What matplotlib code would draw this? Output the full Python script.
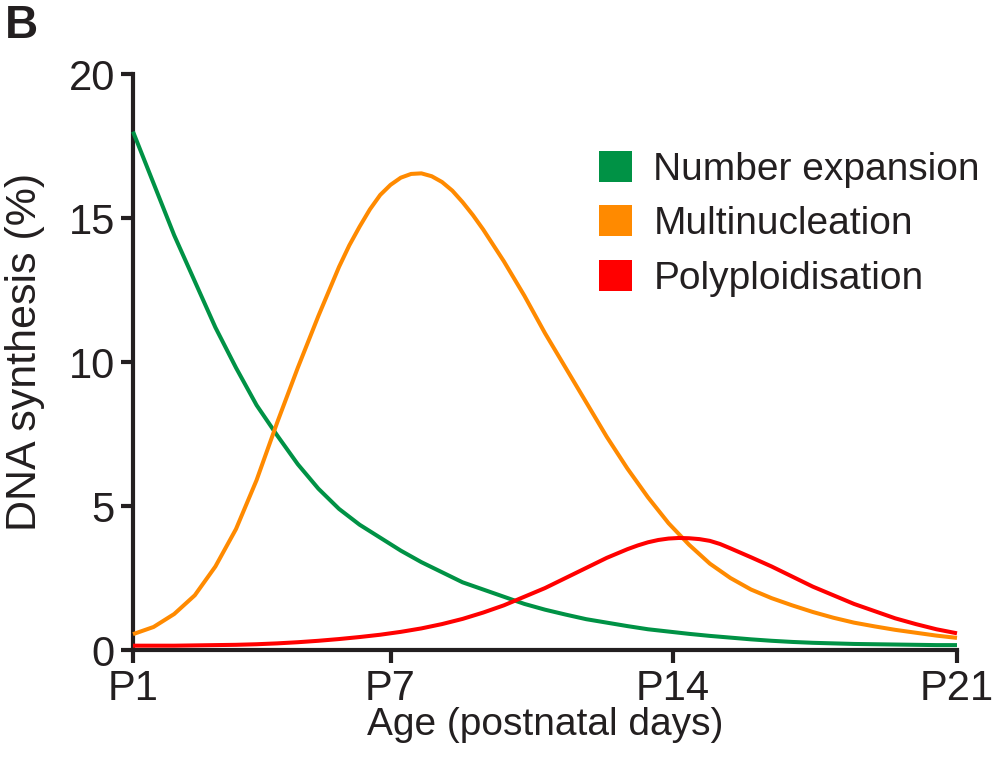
import matplotlib
matplotlib.use("Agg")
import matplotlib.pyplot as plt
from matplotlib.patches import Patch

plt.rcParams['font.family'] = ['Liberation Sans', 'DejaVu Sans']

# ---- data ----
days_ne = [1, 1.25, 1.5, 1.75, 2, 2.5, 3, 3.5, 4, 4.5, 5, 5.5, 6, 6.5, 7, 7.5, 8, 8.5, 9,
           9.5, 10, 10.5, 11, 11.5, 12, 12.5, 13, 13.5, 14, 14.5, 15, 15.5, 16, 16.5, 17,
           17.5, 18, 18.5, 19, 19.5, 20, 20.5, 21]
number_expansion = [18.0, 17.1, 16.2, 15.3, 14.4, 12.8, 11.2, 9.8, 8.5, 7.45, 6.45, 5.6,
                    4.9, 4.35, 3.9, 3.45, 3.05, 2.7, 2.35, 2.1, 1.85, 1.6, 1.4, 1.23, 1.07,
                    0.95, 0.83, 0.72, 0.64, 0.56, 0.49, 0.43, 0.37, 0.32, 0.28, 0.25, 0.23,
                    0.21, 0.2, 0.19, 0.18, 0.17, 0.17]

days_mn = [1, 1.5, 2, 2.5, 3, 3.5, 4, 4.5, 5, 5.5, 6, 6.25, 6.5, 6.75, 7, 7.25, 7.5, 7.75,
           8, 8.25, 8.5, 8.75, 9, 9.25, 9.5, 10, 10.5, 11, 11.5, 12, 12.5, 13, 13.5, 14,
           14.5, 15, 15.5, 16, 16.5, 17, 17.5, 18, 18.5, 19, 19.5, 20, 20.5, 21]
multinucleation = [0.55, 0.8, 1.25, 1.9, 2.9, 4.2, 5.9, 7.9, 9.8, 11.6, 13.3, 14.05, 14.7,
                   15.3, 15.8, 16.15, 16.4, 16.53, 16.55, 16.45, 16.25, 15.95, 15.55, 15.1,
                   14.6, 13.5, 12.3, 11.0, 9.8, 8.6, 7.4, 6.3, 5.3, 4.4, 3.65, 3.0, 2.5,
                   2.1, 1.8, 1.55, 1.32, 1.12, 0.95, 0.82, 0.7, 0.6, 0.5, 0.42]

days_pp = [1, 1.5, 2, 2.5, 3, 3.5, 4, 4.5, 5, 5.5, 6, 6.5, 7, 7.5, 8, 8.5, 9, 9.5, 10,
           10.5, 11, 11.5, 12, 12.5, 13, 13.25, 13.5, 13.75, 14, 14.25, 14.5, 14.75, 15,
           15.25, 15.5, 16, 16.5, 17, 17.5, 18, 18.5, 19, 19.5, 20, 20.5, 21]
polyploidisation = [0.15, 0.15, 0.15, 0.16, 0.17, 0.18, 0.2, 0.23, 0.27, 0.32, 0.38, 0.45,
                    0.53, 0.63, 0.75, 0.9, 1.08, 1.3, 1.55, 1.85, 2.15, 2.5, 2.85, 3.2,
                    3.5, 3.63, 3.74, 3.82, 3.87, 3.89, 3.88, 3.85, 3.79, 3.68, 3.53, 3.22,
                    2.9, 2.55, 2.2, 1.9, 1.6, 1.35, 1.1, 0.9, 0.72, 0.58]

series_names = ["Number expansion", "Multinucleation", "Polyploidisation"]
series_colors = ["#009245", "#FF8A00", "#FF0000"]

x_tick_pos = [1, 7.25, 14.1, 21]
x_tick_labels = ["P1", "P7", "P14", "P21"]
y_ticks = [0, 5, 10, 15, 20]

# ---- figure ----
W, H = 999, 765
fig = plt.figure(figsize=(W / 100, H / 100), dpi=100)
ax = fig.add_axes([133 / W, 1 - 650 / H, (957 - 133) / W, (650 - 74) / H])

txt = "#231F20"
for xs, ys, c in zip([days_ne, days_mn, days_pp],
                     [number_expansion, multinucleation, polyploidisation], series_colors):
    ax.plot(xs, ys, color=c, lw=2.9, solid_capstyle='butt', solid_joinstyle='round',
            clip_on=False, zorder=3)

ax.set_xlim(1, 21)
ax.set_ylim(0, 20)
ax.set_xticks(x_tick_pos)
ax.set_xticklabels(x_tick_labels)
ax.set_yticks(y_ticks)

for s in ["top", "right"]:
    ax.spines[s].set_visible(False)
for s in ["left", "bottom"]:
    ax.spines[s].set_linewidth(3.0)
    ax.spines[s].set_color(txt)
    ax.spines[s].set_capstyle('projecting')
ax.tick_params(axis='both', length=9, width=3.0, color=txt, labelsize=30,
               labelcolor=txt, direction='out')
ax.tick_params(axis='x', pad=5)
ax.tick_params(axis='y', pad=4)

ax.set_xlabel("Age (postnatal days)", fontsize=28, color=txt)
ax.set_ylabel("DNA synthesis (%)", fontsize=31, color=txt)
ax.xaxis.set_label_coords((545 - 133) / (957 - 133), (650 - 725) / (650 - 74))
ax.yaxis.set_label_coords((25 - 133) / (957 - 133), (650 - 352) / (650 - 74))
ax.xaxis.label.set_va('center')
ax.yaxis.label.set_va('center')

handles = [Patch(facecolor=c, edgecolor='none') for c in series_colors]
leg = fig.legend(handles, series_names, loc='upper left',
                 bbox_to_anchor=(583 / W, 1 - 135 / H), frameon=False,
                 fontsize=28, handlelength=0.86, handleheight=0.86,
                 handletextpad=0.55, labelspacing=0.45, borderaxespad=0)
for t in leg.get_texts():
    t.set_color(txt)

fig.text(5 / W, 1 - 4 / H, "B", fontsize=33, fontweight='bold', color=txt,
         ha='left', va='top')

fig.savefig("out.png", dpi=100)
